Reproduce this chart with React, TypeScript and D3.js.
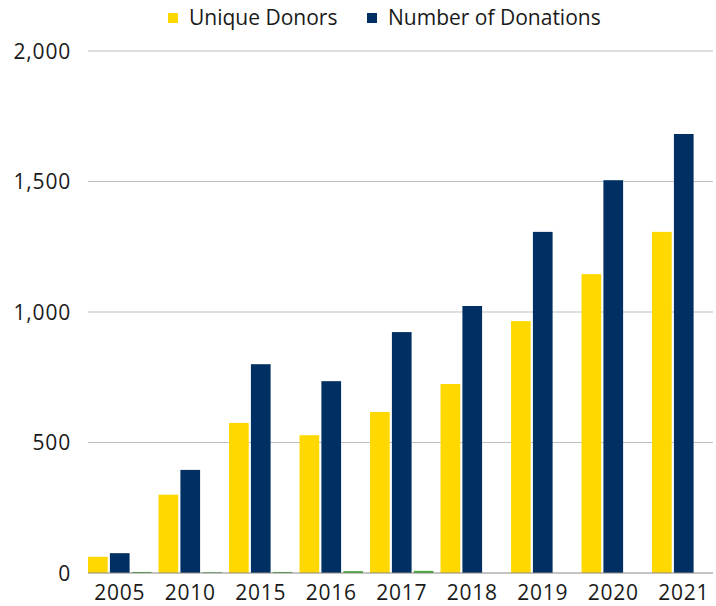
import React from "react";
import * as d3 from "d3";

const years = ["2005", "2010", "2015", "2016", "2017", "2018", "2019", "2020", "2021"];
const uniqueDonors = [62, 300, 575, 528, 617, 724, 965, 1145, 1307];
const numberOfDonations = [76, 395, 800, 735, 923, 1023, 1307, 1505, 1682];
const otherSeries = [4, 3, 4, 7, 8, 0, 0, 0, 0];
const yTicks = [0, 500, 1000, 1500, 2000];

const seriesNames = ["Unique Donors", "Number of Donations", "Other"];
const colors = ["#FFD800", "#003063", "#3DAA2E"];

const W = 716;
const H = 606;
const FONT = "'Open Sans', Lato, sans-serif";

export default function App() {
  const x = d3.scaleBand<string>().domain(years).range([84.5, 719]).paddingInner(0.1).paddingOuter(0.05);
  const inner = d3.scaleBand<number>().domain([0, 1, 2]).range([0, x.bandwidth()]).paddingInner(0.1);
  const y = d3.scaleLinear().domain([0, 2000]).range([573, 51]);
  const fmt = d3.format(",");
  const series = [uniqueDonors, numberOfDonations, otherSeries];
  const gx0 = 88;
  const gx1 = 713;

  return (
    <svg width={W} height={H} style={{ position: "absolute", left: 0, top: 0, background: "#fff" }}>
      {yTicks.map((t) => (
        <g key={t}>
          {t !== 0 && <line x1={gx0} x2={gx1} y1={y(t)} y2={y(t)} stroke="#BFBFBF" strokeWidth={1} />}
          <text x={71} y={y(t)} dy="0.36em" textAnchor="end" fontFamily={FONT} fontSize={21} letterSpacing={0.8} fill="#1a1a1a">
            {fmt(t)}
          </text>
        </g>
      ))}
      {years.map((yr, i) => (
        <g key={yr} transform={`translate(${x(yr)},0)`}>
          {series.map((s, k) =>
            s[i] > 0 ? (
              <rect
                key={k}
                x={inner(k)}
                y={y(s[i])}
                width={inner.bandwidth()}
                height={y(0) - y(s[i])}
                fill={colors[k]}
              />
            ) : null
          )}
        </g>
      ))}
      <line x1={gx0} x2={gx1} y1={y(0)} y2={y(0)} stroke="#888" strokeWidth={1} />
      {years.map((yr) => (
        <text
          key={yr}
          x={(x(yr) as number) + x.bandwidth() / 2}
          y={600}
          textAnchor="middle"
          fontFamily={FONT}
          fontSize={21}
          letterSpacing={0.8}
          fill="#1a1a1a"
        >
          {yr}
        </text>
      ))}
      <g>
        <rect x={168} y={13} width={10} height={10} fill={colors[0]} />
        <text x={189} y={25} fontFamily={FONT} fontSize={21} fill="#1a1a1a">
          {seriesNames[0]}
        </text>
        <rect x={367} y={13} width={10} height={10} fill={colors[1]} />
        <text x={388} y={25} fontFamily={FONT} fontSize={21} fill="#1a1a1a">
          {seriesNames[1]}
        </text>
      </g>
    </svg>
  );
}
